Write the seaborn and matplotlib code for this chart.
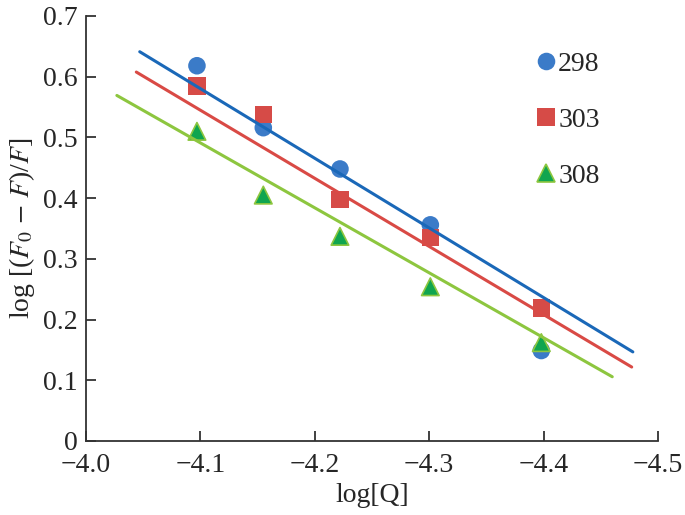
import pandas as pd
import numpy as np
import seaborn as sns
import matplotlib.pyplot as plt

# log of quencher concentration (8, 7, 6, 5, 4 x 1e-5 M)
log_q = [-4.097, -4.155, -4.222, -4.301, -4.398]
temps = ['298', '303', '308']
y_298 = [0.618, 0.516, 0.448, 0.356, 0.149]
y_303 = [0.585, 0.538, 0.398, 0.335, 0.219]
y_308 = [0.510, 0.405, 0.337, 0.254, 0.162]

# fitted lines as drawn in the figure: slope, intercept, x range
slopes = [1.147, 1.122, 1.070]
intercepts = [5.283, 5.145, 4.878]
fit_from = [-4.047, -4.044, -4.027]
fit_to = [-4.478, -4.477, -4.460]

xticks = [-4.0, -4.1, -4.2, -4.3, -4.4, -4.5]
yticks = [0, 0.1, 0.2, 0.3, 0.4, 0.5, 0.6, 0.7]
ytick_labels = ['0', '0.1', '0.2', '0.3', '0.4', '0.5', '0.6', '0.7']

marker_colors = ['#3b7bc8', '#d64b47', '#10a54f']
line_colors = ['#1a68b8', '#d94a45', '#8dc63f']

sns.set_style('ticks')
plt.rcParams['font.family'] = ['Liberation Serif', 'DejaVu Serif']
plt.rcParams['mathtext.fontset'] = 'stix'
plt.rcParams['font.size'] = 20

points = pd.DataFrame({
    'logQ': log_q * 3,
    'value': y_298 + y_303 + y_308,
    'T': [t for t in temps for _ in log_q],
})
lines = pd.DataFrame({
    'logQ': [x for a, b in zip(fit_from, fit_to) for x in (a, b)],
    'T': [t for t in temps for _ in range(2)],
})
lines['value'] = [slopes[temps.index(t)] * x + intercepts[temps.index(t)]
                  for x, t in zip(lines['logQ'], lines['T'])]

fig, ax = plt.subplots(figsize=(6.85, 5.15), dpi=100)
fig.subplots_adjust(left=0.1255, right=0.9606, top=0.969, bottom=0.1437)

sns.lineplot(data=lines, x='logQ', y='value', hue='T', palette=line_colors,
             linewidth=2.2, legend=False, ax=ax)
sns.scatterplot(data=points, x='logQ', y='value', hue='T', style='T',
                palette=marker_colors, markers=['o', 's', '^'], s=160,
                linewidth=0, ax=ax)

# light green edge on the triangles
ax.collections[-1].set_edgecolors(
    ['none'] * 10 + ['#8dc63f'] * 5)
ax.collections[-1].set_linewidths([0] * 10 + [1.2] * 5)

ax.set_xlim(-4.0, -4.5)
ax.set_ylim(0, 0.7)
ax.set_xticks(xticks)
ax.set_xticklabels([f'\u2212{abs(v):.1f}' for v in xticks])
ax.set_yticks(yticks)
ax.set_yticklabels(ytick_labels)
ax.tick_params(direction='in', length=7, width=1.3, color='#333333', labelsize=20)
ax.tick_params(axis='x', pad=9)
ax.tick_params(axis='y', pad=6)
for side in ['top', 'right']:
    ax.spines[side].set_visible(False)
for side in ['left', 'bottom']:
    ax.spines[side].set_linewidth(1.3)
    ax.spines[side].set_color('#333333')

ax.set_xlabel('log[Q]', fontsize=20, labelpad=3)
ax.set_ylabel(r'log [($F_0$ $-$ $F$)/$F$]', fontsize=20, labelpad=4)

handles, labels = ax.get_legend_handles_labels()
leg = ax.legend(handles, labels, loc='upper left', bbox_to_anchor=(0.76, 0.95),
                frameon=False, handlelength=0.8, handletextpad=0.05,
                labelspacing=1.1, borderpad=0, fontsize=20, markerscale=1.0)
h = leg.legend_handles[2]
if hasattr(h, 'set_markeredgecolor'):
    h.set_markeredgecolor('#8dc63f')
    h.set_markeredgewidth(1.2)

fig.savefig('out.png', dpi=100)
